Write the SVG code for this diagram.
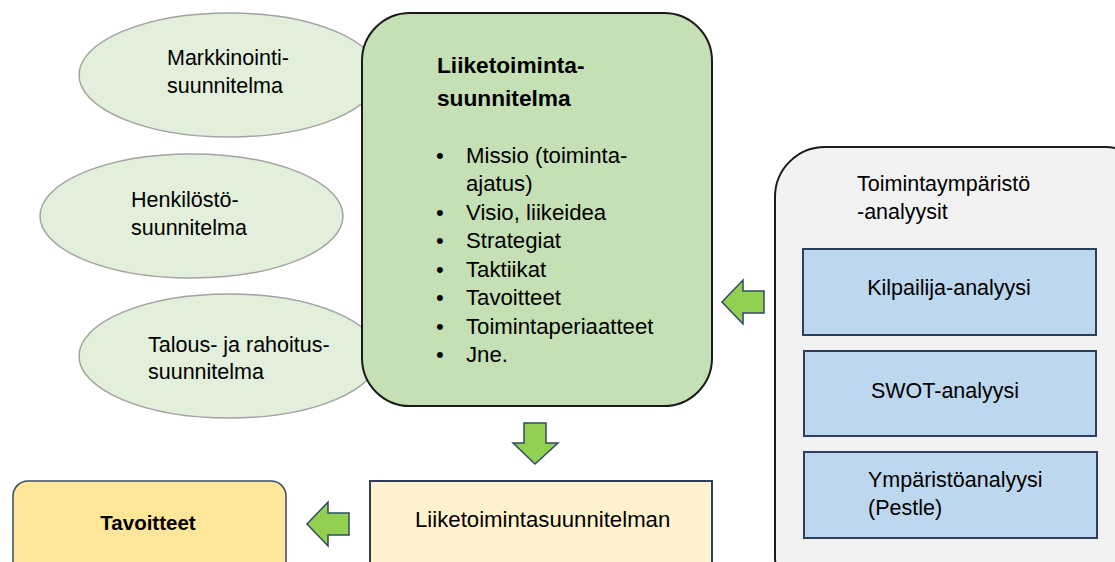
<svg xmlns="http://www.w3.org/2000/svg" width="1115" height="562" viewBox="0 0 1115 562">
<style>
text{font-family:"Liberation Sans",Arial,sans-serif;font-size:21.5px;fill:#000}
.b{font-weight:bold}
.li{font-size:22.2px}
.ell{fill:#e2efda;stroke:#a3a3a3;stroke-width:1.5}
.blue{fill:#bdd7ee;stroke:#2e3f5c;stroke-width:2}
.arrow{fill:#92d050;stroke:#2f4a66;stroke-width:1.5}
</style>
<rect width="1115" height="562" fill="#fff"/>
<g id="markkinointi">
<ellipse class="ell" cx="229" cy="75" rx="150" ry="62"/>
<text x="167" y="65">Markkinointi-</text>
<text x="167" y="93">suunnitelma</text>
</g>
<g id="henkilosto">
<ellipse class="ell" cx="191.5" cy="216" rx="151.5" ry="62"/>
<text x="131" y="207">Henkilöstö-</text>
<text x="131" y="235">suunnitelma</text>
</g>
<g id="talous">
<ellipse class="ell" cx="229" cy="356" rx="150" ry="62"/>
<text x="148" y="352">Talous- ja rahoitus-</text>
<text x="148" y="379">suunnitelma</text>
</g>
<g id="liiketoimintasuunnitelma">
<rect x="362" y="13" width="350" height="393" rx="48" fill="#c5e0b4" stroke="#1a1a1a" stroke-width="2"/>
<text class="b" x="437" y="73" style="font-size:22.7px">Liiketoiminta-</text>
<text class="b" x="437" y="106" style="font-size:22.7px">suunnitelma</text>
<g class="li">
<text class="li" x="436" y="163">•</text><text class="li" x="466" y="163">Missio (toiminta-</text>
<text class="li" x="466" y="191">ajatus)</text>
<text class="li" x="436" y="220">•</text><text class="li" x="466" y="220">Visio, liikeidea</text>
<text class="li" x="436" y="248">•</text><text class="li" x="466" y="248">Strategiat</text>
<text class="li" x="436" y="277">•</text><text class="li" x="466" y="277">Taktiikat</text>
<text class="li" x="436" y="305">•</text><text class="li" x="466" y="305">Tavoitteet</text>
<text class="li" x="436" y="334">•</text><text class="li" x="466" y="334">Toimintaperiaatteet</text>
<text class="li" x="436" y="362">•</text><text class="li" x="466" y="362">Jne.</text>
</g>
</g>
<g id="toimintaymparisto">
<rect x="775" y="147" width="380" height="460" rx="50" fill="#f2f2f2" stroke="#1a1a1a" stroke-width="2"/>
<text x="857" y="191">Toimintaympäristö</text>
<text x="857" y="219">-analyysit</text>
</g>
<g id="kilpailija">
<rect class="blue" x="803" y="249" width="293" height="86"/>
<text x="949" y="295" text-anchor="middle">Kilpailija-analyysi</text>
</g>
<g id="swot">
<rect class="blue" x="804" y="351" width="292" height="85"/>
<text x="945" y="398" text-anchor="middle">SWOT-analyysi</text>
</g>
<g id="ymparisto">
<rect class="blue" x="804" y="452" width="293" height="86"/>
<text x="868" y="487">Ympäristöanalyysi</text>
<text x="868" y="515">(Pestle)</text>
</g>
<g id="tavoitteet">
<rect x="13" y="481" width="273" height="110" rx="15" fill="#ffe699" stroke="#3b4a63" stroke-width="1.5"/>
<text class="b" x="148" y="530" text-anchor="middle" style="font-size:20.5px">Tavoitteet</text>
</g>
<g id="liiketoimintasuunnitelman">
<rect x="370" y="481" width="342" height="110" fill="#fff2cc" stroke="#2e3f5c" stroke-width="2"/>
<text class="li" x="415" y="527">Liiketoimintasuunnitelman</text>
</g>
<g id="connectors">
<polygon class="arrow" points="722,302 743,280 743,291 764,291 764,313 743,313 743,324"/>
<polygon class="arrow" points="524,423 546,423 546,443 558,443 535,464 513,443 524,443"/>
<polygon class="arrow" points="307,524 328,502 328,513 349,513 349,535 328,535 328,546"/>
</g>
</svg>
